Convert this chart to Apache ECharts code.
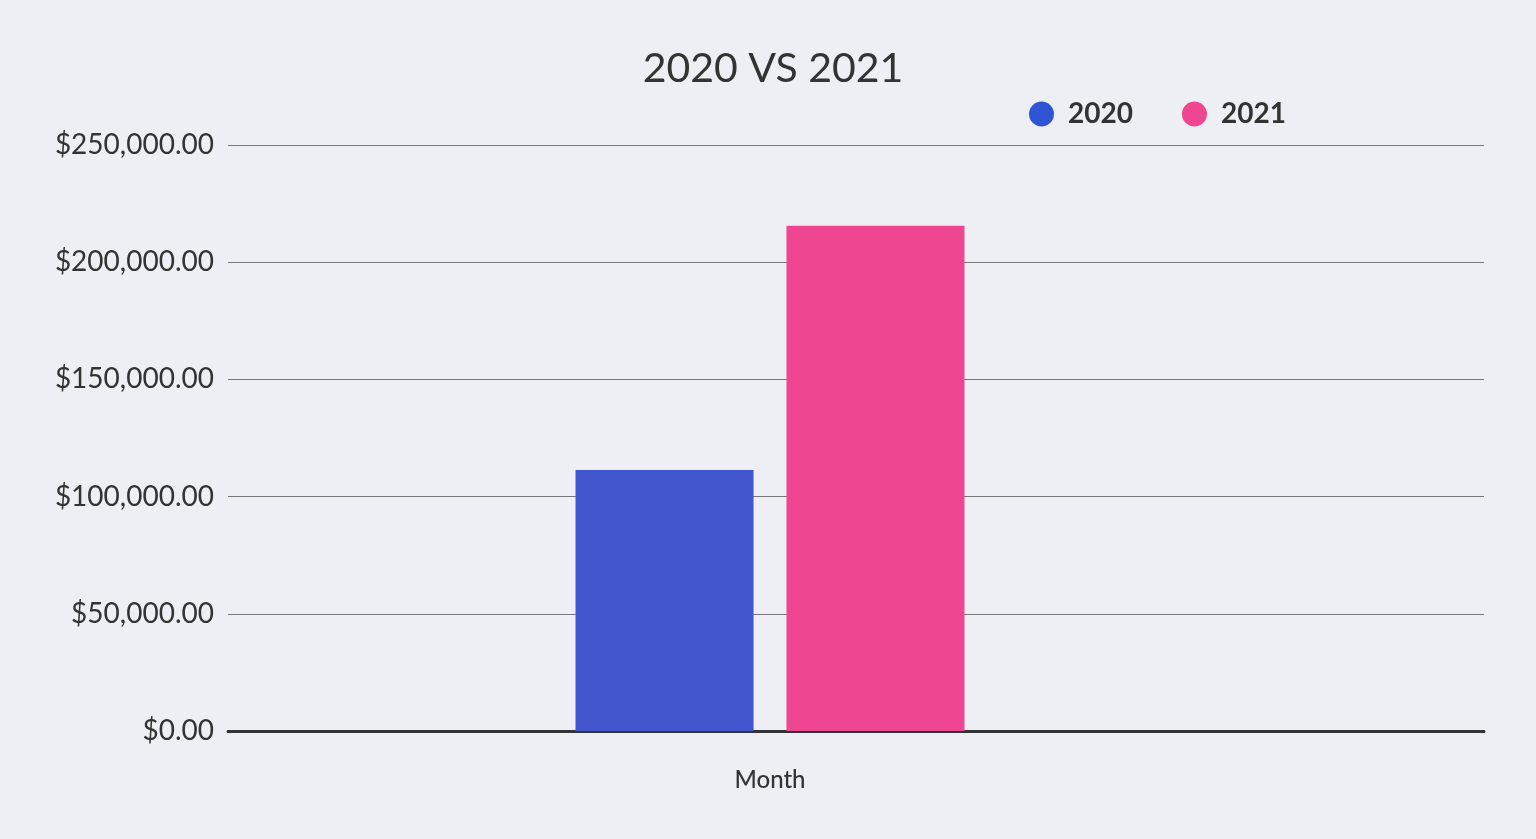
<!DOCTYPE html>
<html><head><meta charset="utf-8">
<script src="https://cdn.jsdelivr.net/npm/echarts@6/dist/echarts.min.js"></script>
<style>html,body{margin:0;padding:0;background:#eeeff4;}#c{width:1536px;height:839px;}</style>
</head><body><div id="c"></div>
<script>
const categories = ['Month'];
const seriesNames = ['2020', '2021'];
const values2020 = [111300];
const values2021 = [215500];
const yTicks = [0, 50000, 100000, 150000, 200000, 250000];

const font = 'Lato';
const chart = echarts.init(document.getElementById('c'));
const fmt = v => '$' + v.toLocaleString('en-US', {minimumFractionDigits: 2, maximumFractionDigits: 2});
chart.setOption({
  backgroundColor: '#eeeff4',
  animation: false,
  title: {text: '2020 VS 2021', left: 768, textAlign: 'center', top: 43,
    textStyle: {fontFamily: font, fontSize: 41, fontWeight: 'normal', color: '#333'}},
  legend: {
    top: 95, left: 1024, itemWidth: 25, itemHeight: 25, itemGap: 49, icon: 'circle',
    textStyle: {fontFamily: font, fontSize: 28, fontWeight: 'bold', color: '#333', padding: [0,0,0,9]},
    data: [{name: seriesNames[0], itemStyle: {color: '#2f55d4'}}, {name: seriesNames[1], itemStyle: {color: '#ee4690'}}]
  },
  grid: [
    {left: 228, right: 52, top: 145, bottom: 108},
    {left: 56, right: 52, top: 145, bottom: 108}
  ],
  xAxis: [
    {gridIndex: 0, type: 'category', data: categories, axisTick: {show: false}, axisLabel: {show: false},
      axisLine: {lineStyle: {color: '#333', width: 3}}},
    {gridIndex: 1, type: 'category', data: categories, axisTick: {show: false}, axisLine: {show: false},
      axisLabel: {fontFamily: font, fontSize: 24, fontWeight: 500, color: '#333', margin: 37}}
  ],
  yAxis: [
    {gridIndex: 0, type: 'value', min: yTicks[0], max: yTicks[yTicks.length-1], interval: yTicks[1]-yTicks[0],
      axisLabel: {formatter: fmt, fontFamily: font, fontSize: 28, color: '#333', margin: 14},
      splitLine: {lineStyle: {color: '#777', width: 1}}, axisLine: {show: false}, axisTick: {show: false}},
    {gridIndex: 1, type: 'value', min: yTicks[0], max: yTicks[yTicks.length-1], interval: yTicks[1]-yTicks[0],
      show: false, splitLine: {show: false}}
  ],
  series: [
    {name: 'axisHolder', type: 'bar', xAxisIndex: 0, yAxisIndex: 0, data: [], silent: true},
    {name: seriesNames[0], type: 'bar', xAxisIndex: 1, yAxisIndex: 1, data: values2020, barWidth: 178, barGap: '18.5%',
      itemStyle: {color: '#4156cc'}},
    {name: seriesNames[1], type: 'bar', xAxisIndex: 1, yAxisIndex: 1, data: values2021, barWidth: 178, barGap: '18.5%',
      itemStyle: {color: '#ee4690'}}
  ]
});
</script></body></html>
